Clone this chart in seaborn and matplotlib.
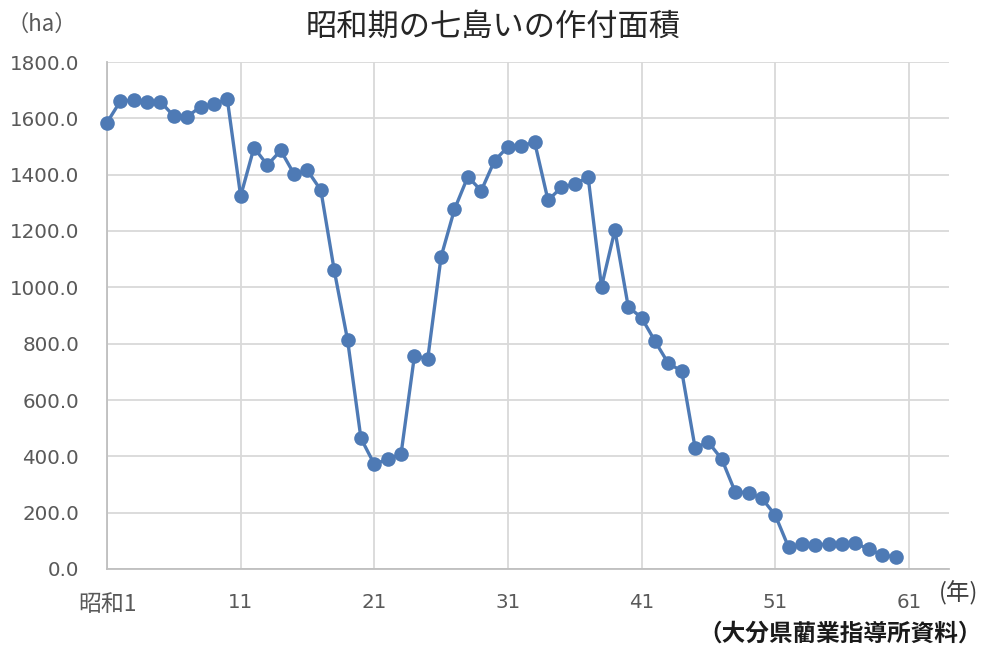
import matplotlib
matplotlib.use("Agg")
import matplotlib.pyplot as plt
import seaborn as sns
import pandas as pd

years = list(range(1, 61))
area = [1585, 1661, 1665, 1659, 1659, 1608, 1606, 1641, 1650, 1668,
        1324, 1496, 1434, 1486, 1402, 1415, 1345, 1061, 813, 464,
        372, 390, 408, 756, 747, 1109, 1277, 1393, 1343, 1450,
        1499, 1503, 1515, 1309, 1355, 1367, 1391, 1002, 1203, 931,
        892, 809, 730, 703, 431, 450, 390, 274, 271, 251,
        191, 77, 88, 84, 90, 88, 92, 70, 50, 42]
xticks = [1, 11, 21, 31, 41, 51, 61]
xticklabels = ["昭和1", "11", "21", "31", "41", "51", "61"]
yticks = [0, 200, 400, 600, 800, 1000, 1200, 1400, 1600, 1800]

df = pd.DataFrame({"year": years, "area": area})

sns.set_theme(style="white")
plt.rcParams["font.family"] = ["DejaVu Sans", "Noto Sans CJK JP"]

fig = plt.figure(figsize=(9.84, 6.48), dpi=100)
ax = fig.add_axes([107/984, 1-569/648, (949-107)/984, (569-62)/648])

color = "#4E7AB5"
sns.lineplot(data=df, x="year", y="area", ax=ax, color=color, linewidth=2.4,
             marker="o", markersize=10.5, markeredgewidth=0, zorder=3)
for ln in ax.lines:
    ln.set_clip_on(False)

ax.set_xlim(1, 64)
ax.set_ylim(0, 1800)
ax.set_xticks(xticks)
ax.set_xticklabels(xticklabels, fontsize=14.3)
ax.set_yticks(yticks)
ax.set_yticklabels([f"{v:.1f}" for v in yticks], fontsize=14.3)
ax.set_xlabel("")
ax.set_ylabel("")

ax.grid(True, color="#D9D9D9", linewidth=1.3)
ax.set_axisbelow(True)
for s in ["top", "right"]:
    ax.spines[s].set_visible(False)
for s in ["left", "bottom"]:
    ax.spines[s].set_color("#BFBFBF")
    ax.spines[s].set_linewidth(1.3)

ax.tick_params(axis="both", length=0, colors="#595959", labelsize=14.3)
ax.tick_params(axis="y", pad=20)
ax.tick_params(axis="x", pad=17)

cjk = ["Noto Sans CJK JP", "DejaVu Sans"]
first = ax.get_xticklabels()[0]
first.set_family(["Noto Sans CJK JP", "DejaVu Sans"])
first.set_fontsize(16.5)

fig.text(493/984, 1-27/648, "昭和期の七島いの作付面積", ha="center", va="center",
         fontsize=22.5, color="#262626", fontweight="normal", family=cjk)
fig.text(42/984, 1-24/648, "（ha）", ha="center", va="center", fontsize=16,
         color="#595959", family=cjk)
fig.text(959/984, 1-593/648, "(年)", ha="center", va="center", fontsize=17,
         color="#404040", family=cjk)
fig.text(982/984, 1-634/648, "（大分県藺業指導所資料）", ha="right", va="center",
         fontsize=17, color="#1a1a1a", fontweight="bold", family=cjk)

fig.savefig("out.png", dpi=100)
